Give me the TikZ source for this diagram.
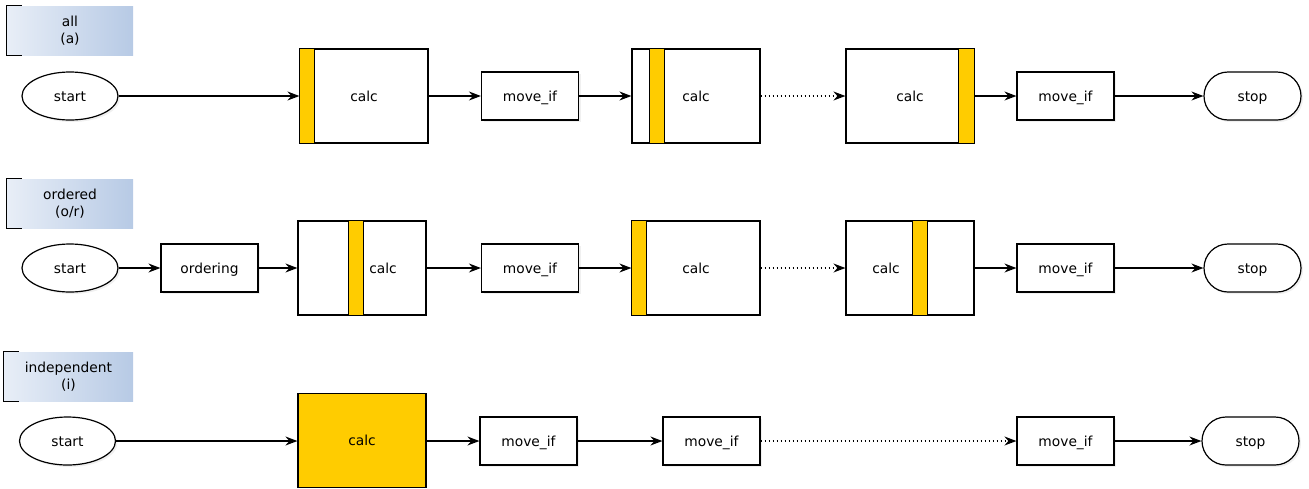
\documentclass[tikz,border=0pt]{standalone}
\usepackage{fontspec}
\setmainfont{DejaVu Sans}
\usetikzlibrary{arrows.meta,shadows,shapes.geometric}
\definecolor{calcyellow}{HTML}{FFCC00}
\definecolor{gradL}{HTML}{E8EEF7}
\definecolor{gradR}{HTML}{B7CAE5}
\begin{document}
\begin{tikzpicture}[x=1pt,y=-1pt,
 font=\fontsize{13.8}{16.5}\selectfont,
 txt/.style={text height=10.5pt, text depth=0.5pt},
 base/.style={txt, draw=black, line width=1.2pt, inner sep=0pt, fill=white, drop shadow={opacity=0.12,shadow xshift=2pt,shadow yshift=-2pt}},
 proc/.style={base, rectangle, minimum width=97pt, minimum height=48pt},
 term/.style={base, ellipse, minimum width=96pt, minimum height=48pt},
 stopbox/.style={base, rectangle, rounded corners=24pt, minimum width=97pt, minimum height=48pt},
 calcbox/.style={draw=black, line width=1.2pt, inner sep=0pt, fill=white, minimum width=128pt, minimum height=94pt},
 strip/.style={draw=black, line width=1.2pt, fill=calcyellow},
 flow/.style={-{Stealth[length=12pt,width=9pt,inset=4pt]}, line width=1.2pt},
 gap/.style={flow, dash pattern=on 1pt off 3pt},
 lbl/.style={left color=gradL, right color=gradR, align=center, inner sep=0pt, minimum height=49pt},
 brk/.style={draw=black, line width=1.2pt},
]
\useasboundingbox (0,0) rectangle (1309,488);

% ---------- row 1 : all ----------
\node[lbl, minimum width=126pt] (la) at (70,30.5) {all\\(a)};
\draw[brk] ([xshift=15pt]la.north west) -- (la.north west) -- (la.south west) -- ([xshift=15pt]la.south west);

\node[term] (s1) at (70,96) {start};
\node[calcbox] (c11) at (364,96) {};
\draw[strip] (c11.north west) rectangle ([xshift=15pt]c11.south west);
\node[txt] (c11t) at (364,96) {calc};
\node[proc] (m11) at (530,96) {move\_if};
\node[calcbox] (c12) at (696,96) {};
\draw[strip] ([xshift=18pt]c12.north west) rectangle ([xshift=33pt]c12.south west);
\node[txt] (c12t) at (696,96) {calc};
\node[calcbox] (c13) at (910,96) {};
\draw[strip] ([xshift=-16pt]c13.north east) rectangle (c13.south east);
\node[txt] (c13t) at (910,96) {calc};
\node[proc] (m12) at (1065.5,96) {move\_if};
\node[stopbox] (e1) at (1252.5,96) {stop};

\draw[flow] (s1) -- (c11);
\draw[flow] (c11) -- (m11);
\draw[flow] (m11) -- (c12);
\draw[gap] (c12) -- (c13);
\draw[flow] (c13) -- (m12);
\draw[flow] (m12) -- (e1);

% ---------- row 2 : ordered ----------
\node[lbl, minimum width=126pt] (lo) at (70,203.5) {ordered\\(o/r)};
\draw[brk] ([xshift=15pt]lo.north west) -- (lo.north west) -- (lo.south west) -- ([xshift=15pt]lo.south west);

\node[term] (s2) at (70,268) {start};
\node[proc] (o2) at (209.5,268) {ordering};
\node[calcbox] (c21) at (362,268) {};
\draw[strip] ([xshift=51pt]c21.north west) rectangle ([xshift=66pt]c21.south west);
\node[txt] (c21t) at (383,268) {calc};
\node[proc] (m21) at (530,268) {move\_if};
\node[calcbox] (c22) at (696,268) {};
\draw[strip] (c22.north west) rectangle ([xshift=15pt]c22.south west);
\node[txt] (c22t) at (696,268) {calc};
\node[calcbox] (c23) at (910,268) {};
\draw[strip] ([xshift=67pt]c23.north west) rectangle ([xshift=82pt]c23.south west);
\node[txt] (c23t) at (886,268) {calc};
\node[proc] (m22) at (1065.5,268) {move\_if};
\node[stopbox] (e2) at (1252.5,268) {stop};

\draw[flow] (s2) -- (o2);
\draw[flow] (o2) -- (c21);
\draw[flow] (c21) -- (m21);
\draw[flow] (m21) -- (c22);
\draw[gap] (c22) -- (c23);
\draw[flow] (c23) -- (m22);
\draw[flow] (m22) -- (e2);

% ---------- row 3 : independent ----------
\node[lbl, minimum width=129pt] (li) at (68.5,376.5) {independent\\(i)};
\draw[brk] ([xshift=15pt]li.north west) -- (li.north west) -- (li.south west) -- ([xshift=15pt]li.south west);

\node[term] (s3) at (67.5,441) {start};
\node[calcbox, txt, fill=calcyellow] (c31) at (362,440.5) {calc};
\node[proc] (m31) at (528.5,441) {move\_if};
\node[proc] (m32) at (711.5,441) {move\_if};
\node[proc] (m33) at (1065.5,441) {move\_if};
\node[stopbox] (e3) at (1250.5,441) {stop};

\draw[flow] (s3) -- (s3 -| c31.west);
\draw[flow] (c31.east |- m31) -- (m31);
\draw[flow] (m31) -- (m32);
\draw[gap] (m32) -- (m33);
\draw[flow] (m33) -- (e3);
\end{tikzpicture}
\end{document}
